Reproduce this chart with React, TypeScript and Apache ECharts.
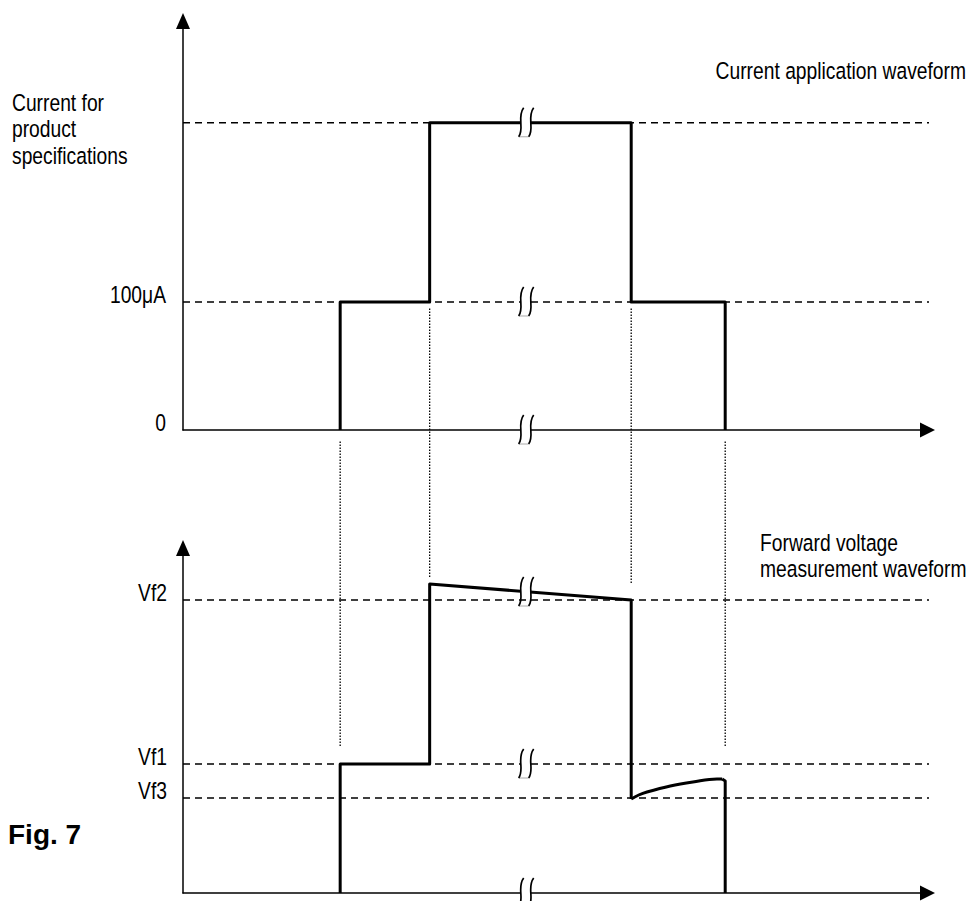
import React, { useEffect, useRef } from 'react';
import * as echarts from 'echarts';

// ---- time axis (arbitrary units, 0 = vertical axis) ----
const timeMax = 99;
const breakTime = 45.7;
const refLineEnd = 99.7;

// ---- current application waveform ----
const currentMax = 3.195;
const currentTimes = [20.9, 20.9, 32.8, 32.8, 59.6, 59.6, 72.1, 72.1];
const currentValues = [0, 1, 1, 2.4, 2.4, 1, 1, 0];
const currentRefLevels = [2.4, 1];
const currentTickValues = [0, 1];
const currentTickLabels = ['0', '100μA'];
const currentBreakLevels = [2.4, 1, 0];

// ---- forward voltage measurement waveform ----
const voltageMax = 3.45;
const voltageTimes = [20.9, 20.9, 32.8, 32.8, 59.6, 59.6];
const voltageValues = [0, 1.29, 1.29, 3.09, 2.93, 0.94];
const recoveryTimes = [59.6, 60.6, 61.7, 64.8, 67.8, 71.0, 71.7];
const recoveryValues = [0.94, 0.98, 1.01, 1.07, 1.11, 1.14, 1.14];
const fallTimes = [71.7, 72.1, 72.1];
const fallValues = [1.14, 1.12, 0];
const voltageRefLevels = [2.93, 1.29, 0.95];
const voltageTickLabels = ['Vf2', 'Vf1', 'Vf3'];
const voltageBreakLevels = [3.01, 1.29, 0];

// ---- dotted guides between the two panels ----
const guideTimes = [20.9, 32.8, 59.6, 72.1];
const guideStartCurrent = [-0.09, 0.95, 0.95, -0.09];
const guideEndVoltage = [1.46, 3.16, 3.1, 1.46];

// ---- texts ----
const currentTitleLines = ['Current for', 'product', 'specifications'];
const currentCaption = 'Current application waveform';
const voltageCaptionLines = ['Forward voltage', 'measurement waveform'];
const figLabel = 'Fig. 7';

const FONT = '23.5px "Liberation Sans", Arial, sans-serif';
const NARROW = 0.82;

const pairs = (ts: number[], vs: number[]) => ts.map((t, i) => [t, vs[i]]);

const breakRender = (_params: any, api: any) => {
  const c = api.coord([api.value(0), api.value(1)]);
  const cx = c[0];
  const cy = c[1];
  const curve = (ox: number) => ({
    type: 'bezierCurve',
    shape: {
      x1: cx + ox + 2, y1: cy - 15,
      cpx1: cx + ox - 5, cpy1: cy - 6,
      cpx2: cx + ox + 3, cpy2: cy + 6,
      x2: cx + ox - 3, y2: cy + 14,
    },
    style: { stroke: '#000', lineWidth: 1.7, fill: null },
  });
  return {
    type: 'group',
    children: [
      { type: 'rect', shape: { x: cx - 6, y: cy - 6, width: 10, height: 12 }, style: { fill: '#fff' } },
      { type: 'line', shape: { x1: cx - 8, y1: cy + 14, x2: cx + 2, y2: cy + 14 }, style: { stroke: '#aaa', lineWidth: 1 } },
      curve(-5),
      curve(5),
    ],
  };
};

export default function App() {
  const ref = useRef<HTMLDivElement>(null);

  useEffect(() => {
    const chart = echarts.init(ref.current!, null, { renderer: 'svg' });
    const axisLineStyle = { color: '#000', width: 1.5 };
    const baseAxis = {
      axisTick: { show: false },
      axisLabel: { show: false },
      splitLine: { show: false },
    };
    const xAxis = [0, 1].map((i) => ({
      type: 'value',
      gridIndex: i,
      min: 0,
      max: timeMax,
      ...baseAxis,
      axisLine: { show: true, onZero: false, lineStyle: axisLineStyle, symbol: ['none', 'triangle'], symbolSize: [15, 15] },
    }));
    const yAxis = [currentMax, voltageMax].map((mx, i) => ({
      type: 'value',
      gridIndex: i,
      min: 0,
      max: mx,
      ...baseAxis,
      axisLine: { show: true, onZero: false, lineStyle: axisLineStyle, symbol: ['none', 'triangle'], symbolSize: [14, 16] },
    }));

    const dashed = { color: '#000', width: 1.5, type: [7, 5] };
    const thick = { color: '#000', width: 3, join: 'round' };
    const series: any[] = [];
    currentRefLevels.forEach((l) =>
      series.push({ type: 'line', xAxisIndex: 0, yAxisIndex: 0, data: [[0, l], [refLineEnd, l]], symbol: 'none', lineStyle: dashed, clip: false, silent: true, z: 2 })
    );
    voltageRefLevels.forEach((l) =>
      series.push({ type: 'line', xAxisIndex: 1, yAxisIndex: 1, data: [[0, l], [refLineEnd, l]], symbol: 'none', lineStyle: dashed, clip: false, silent: true, z: 2 })
    );
    series.push({
      type: 'line', xAxisIndex: 0, yAxisIndex: 0, data: pairs(currentTimes, currentValues),
      symbol: 'none', lineStyle: thick, clip: false, z: 3,
    });
    series.push({
      type: 'line', xAxisIndex: 1, yAxisIndex: 1, data: pairs(voltageTimes, voltageValues),
      symbol: 'none', lineStyle: thick, clip: false, z: 3,
    });
    series.push({
      type: 'line', xAxisIndex: 1, yAxisIndex: 1, data: pairs(recoveryTimes, recoveryValues),
      symbol: 'none', smooth: 0.4, lineStyle: thick, clip: false, z: 3,
    });
    series.push({
      type: 'line', xAxisIndex: 1, yAxisIndex: 1, data: pairs(fallTimes, fallValues),
      symbol: 'none', lineStyle: thick, clip: false, z: 3,
    });
    series.push({
      type: 'custom', xAxisIndex: 0, yAxisIndex: 0, data: currentBreakLevels.map((l) => [breakTime, l]),
      renderItem: breakRender, clip: false, z: 10, silent: true,
    });
    series.push({
      type: 'custom', xAxisIndex: 1, yAxisIndex: 1, data: voltageBreakLevels.map((l) => [breakTime, l]),
      renderItem: breakRender, clip: false, z: 10, silent: true,
    });

    chart.setOption({
      animation: false,
      backgroundColor: '#fff',
      grid: [
        { left: 183, right: 44.5, top: 21, bottom: 471, outerBoundsMode: 'none', containLabel: false },
        { left: 183, right: 44.5, top: 548, bottom: 8, outerBoundsMode: 'none', containLabel: false },
      ],
      xAxis,
      yAxis,
      series,
    });

    const toPx = (g: number, t: number, v: number) => chart.convertToPixel({ gridIndex: g }, [t, v]) as number[];
    const graphic: any[] = [];
    const text = (t: string, x: number, y: number, align: string, font = FONT, sx = NARROW) => ({
      type: 'text', x, y, scaleX: sx, silent: true, z: 20,
      style: { text: t, font, fill: '#000', align, textAlign: align, verticalAlign: 'middle', textVerticalAlign: 'middle' },
    });

    guideTimes.forEach((t, i) => {
      const a = toPx(0, t, guideStartCurrent[i]);
      const b = toPx(1, t, guideEndVoltage[i]);
      graphic.push({
        type: 'line', silent: true, z: 1,
        shape: { x1: a[0], y1: a[1], x2: b[0], y2: b[1] },
        style: { stroke: '#000', lineWidth: 1.3, lineDash: [1.5, 1.5] },
      });
    });

    currentTickValues.forEach((v, i) => {
      const p = toPx(0, 0, v);
      graphic.push(text(currentTickLabels[i], 166, p[1] - 7, 'right'));
    });
    voltageRefLevels.forEach((v, i) => {
      const p = toPx(1, 0, v);
      graphic.push(text(voltageTickLabels[i], 167, p[1] - 7, 'right'));
    });
    currentTitleLines.forEach((s, i) => graphic.push(text(s, 12, 103 + i * 26.5, 'left')));
    graphic.push(text(currentCaption, 966, 71, 'right'));
    voltageCaptionLines.forEach((s, i) => graphic.push(text(s, 760, 543 + i * 26, 'left')));
    graphic.push(text(figLabel, 8, 834, 'left', 'bold 28px "Liberation Sans", Arial, sans-serif', 1));

    chart.setOption({ graphic });

    return () => chart.dispose();
  }, []);

  return <div ref={ref} style={{ position: 'absolute', left: 0, top: 0, width: 972, height: 901 }} />;
}
